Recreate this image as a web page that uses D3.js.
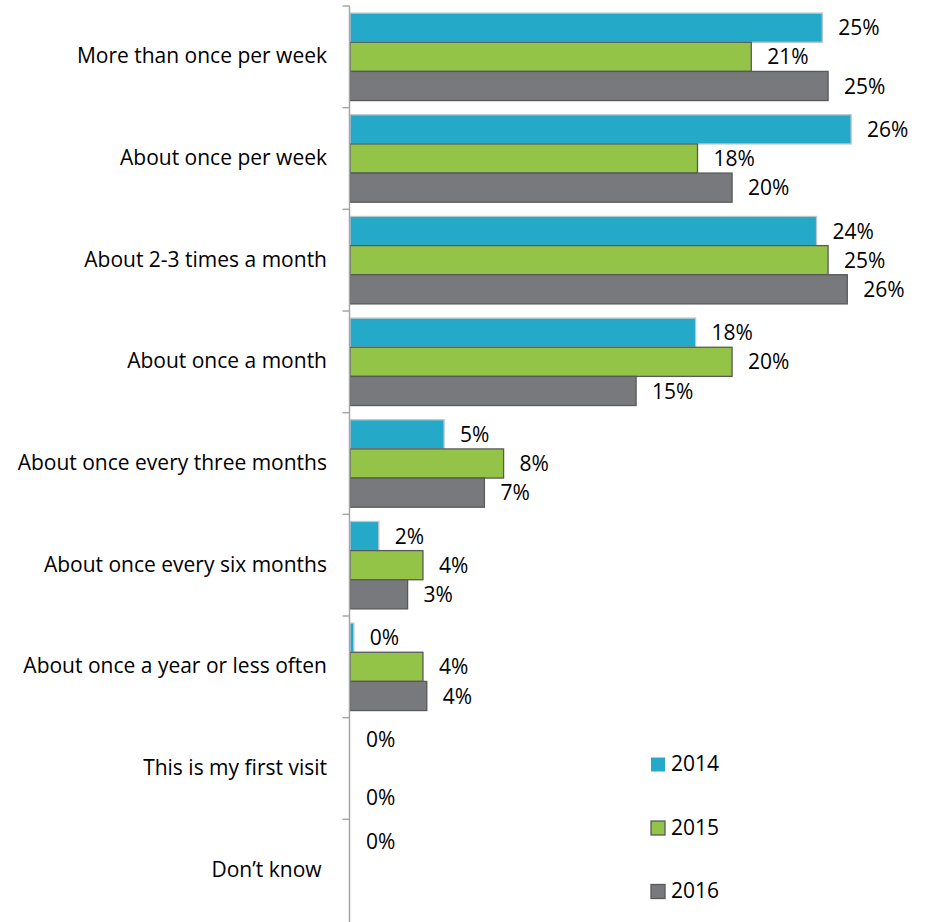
<!DOCTYPE html>
<html>
<head>
<meta charset="utf-8">
<script src="https://cdn.jsdelivr.net/npm/d3@7"></script>
<style>
  html, body { margin: 0; padding: 0; background: #fff; }
  svg { display: block; }
  text { font-family: "Open Sans", "Noto Sans", sans-serif; fill: #000; }
</style>
</head>
<body>
<svg id="chart" width="928" height="922"></svg>
<script>
// ---- data ----
const categories = [
  "More than once per week",
  "About once per week",
  "About 2-3 times a month",
  "About once a month",
  "About once every three months",
  "About once every six months",
  "About once a year or less often",
  "This is my first visit",
  "Don\u2019t know "
];
const seriesNames = ["2014", "2015", "2016"];
const values2014 = [24.6, 26.1, 24.3, 18.0, 4.9, 1.5, 0.2, 0, 0];
const values2015 = [20.9, 18.1, 24.9, 19.9, 8.0, 3.8, 3.8, null, null];
const values2016 = [24.9, 19.9, 25.9, 14.9, 7.0, 3.0, 4.0, 0, null];
const seriesColors = ["#25A9C9", "#93C347", "#77797C"];
const seriesStrokes = ["#B9C6CC", "#595959", "#595959"];
const xDomain = [0, 30];

// ---- layout ----
const svg = d3.select("#chart");
const axisX = 350;
const FS = 21;
const y = d3.scaleBand().domain(categories).range([6, 921]).paddingInner(0.14).paddingOuter(0.07);
const ySub = d3.scaleBand().domain(seriesNames).range([0, y.bandwidth()]);
const x = d3.scaleLinear().domain(xDomain).range([axisX, axisX + 19.2 * 30]);
const fmt = v => d3.format(".0f")(v) + "%";

const allValues = [values2014, values2015, values2016];
const rows = [];
categories.forEach((c, i) => {
  seriesNames.forEach((s, j) => {
    rows.push({ cat: c, series: s, j: j, value: allValues[j][i] });
  });
});

// bars
const g = svg.append("g");
g.selectAll("rect.bar")
  .data(rows.filter(d => d.value !== null && d.value > 0))
  .join("rect")
  .attr("class", "bar")
  .attr("x", x(0))
  .attr("y", d => y(d.cat) + ySub(d.series))
  .attr("width", d => x(d.value) - x(0))
  .attr("height", ySub.bandwidth())
  .attr("fill", d => seriesColors[d.j])
  .attr("stroke", d => seriesStrokes[d.j])
  .attr("stroke-width", 1.3);

// value labels
g.selectAll("text.val")
  .data(rows.filter(d => d.value !== null))
  .join("text")
  .attr("class", "val")
  .attr("x", d => x(d.value) + 16)
  .attr("y", d => y(d.cat) + ySub(d.series) + ySub.bandwidth() / 2 + 2)
  .attr("dominant-baseline", "middle")
  .attr("font-size", FS)
  .text(d => fmt(d.value));

// axis
const axis = d3.axisLeft(y).tickSize(0).tickFormat("");
const axG = svg.append("g").attr("transform", `translate(${axisX - 0.5},0)`).call(axis);
axG.select(".domain").attr("stroke", "#A6A6A6").attr("stroke-width", 1.5).attr("d", "M0,6V922");
// boundary ticks between categories
const boundaries = categories.map(c => y(c) - y.step() * y.paddingInner() / 2);
axG.selectAll("line.btick")
  .data(boundaries)
  .join("line")
  .attr("class", "btick")
  .attr("x1", -7).attr("x2", 0)
  .attr("y1", d => d).attr("y2", d => d)
  .attr("stroke", "#A6A6A6").attr("stroke-width", 1.5);

// category labels
svg.append("g").selectAll("text.cat")
  .data(categories)
  .join("text")
  .attr("class", "cat")
  .attr("x", axisX - 23)
  .attr("y", d => y(d) + y.bandwidth() / 2 + 1)
  .attr("text-anchor", "end")
  .attr("dominant-baseline", "middle")
  .attr("font-size", FS)
  .style("white-space", "pre")
  .text(d => d);

// legend
const legend = svg.append("g");
const legY = d3.scalePoint().domain(seriesNames).range([764.5, 891.5]);
legend.selectAll("rect")
  .data(seriesNames)
  .join("rect")
  .attr("x", 651)
  .attr("y", d => legY(d) - 7)
  .attr("width", 14).attr("height", 14)
  .attr("fill", (d, i) => seriesColors[i])
  .attr("stroke", (d, i) => i === 0 ? "none" : "#595959")
  .attr("stroke-width", 1.3);
legend.selectAll("text")
  .data(seriesNames)
  .join("text")
  .attr("x", 671)
  .attr("y", d => legY(d) + 1)
  .attr("dominant-baseline", "middle")
  .attr("font-size", FS)
  .text(d => d);
</script>
</body>
</html>
